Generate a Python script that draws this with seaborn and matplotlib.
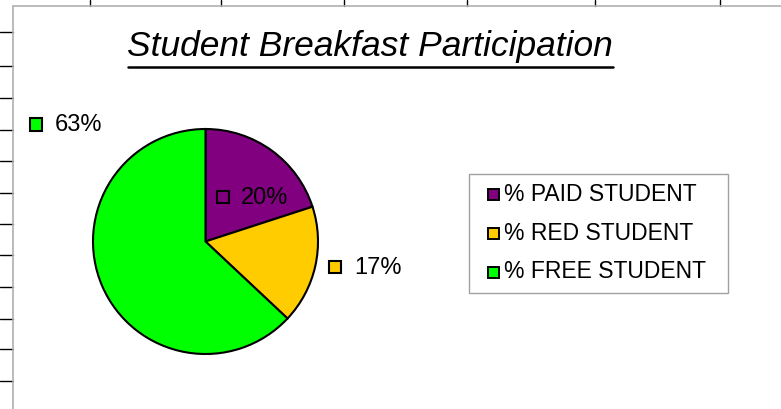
import matplotlib
matplotlib.use("Agg")
import matplotlib.pyplot as plt
import seaborn as sns
from matplotlib.lines import Line2D
from matplotlib.patches import Rectangle

categories = ["% PAID STUDENT", "% RED STUDENT", "% FREE STUDENT"]
values = [20, 17, 63]
label_texts = ["20%", "17%", "63%"]
colors = ["#800080", "#FFCC00", "#00FF00"]
title = "Student Breakfast Participation"

sns.set_theme(style="white")
plt.rcParams['font.family'] = ['Liberation Sans', 'DejaVu Sans']

W, H = 781, 409
fig = plt.figure(figsize=(W / 100, H / 100), dpi=100)
fig.patch.set_facecolor("white")

def fx(x):
    return x / W

def fy(y):
    return 1 - y / H

# spreadsheet cell lines outside the chart area
for x in [90, 221, 344, 467, 595, 720]:
    fig.add_artist(Line2D([fx(x), fx(x)], [fy(0), fy(6)], color="black", lw=1))
for y in [32, 66, 98, 130, 161, 193, 224, 255, 287, 319, 349, 381]:
    fig.add_artist(Line2D([fx(0), fx(13)], [fy(y), fy(y)], color="black", lw=1))
# chart area border
fig.add_artist(Line2D([fx(13), fx(781)], [fy(6), fy(6)], color="#b0b0b0", lw=1.2))
fig.add_artist(Line2D([fx(13), fx(13)], [fy(6), fy(409)], color="#b0b0b0", lw=1.2))

# title
fig.text(fx(370), fy(56), title, ha="center", va="baseline", fontsize=25.5,
         style="italic", color="black")
fig.add_artist(Line2D([fx(128), fx(613)], [fy(67), fy(67)], color="black", lw=1.8))

# pie
cx, cy, r = 205.5, 241.5, 112.5
ax = fig.add_axes([fx(cx - r), fy(cy + r), 2 * r / W, 2 * r / H])
wedges, _ = ax.pie(values, colors=colors, startangle=90, counterclock=False,
                   wedgeprops=dict(edgecolor="black", linewidth=1.5))
ax.set_xlim(-1, 1)
ax.set_ylim(-1, 1)
ax.axis("off")

# data labels with key squares: (square centre x, square centre y, text left x, text y)
label_pos = [(222.5, 197, 241, 198), (335, 266.5, 354, 268), (36, 124.5, 55, 125)]
sq = 12
for (sx, sy, lx, ly), txt, col in zip(label_pos, label_texts, colors):
    fig.text(fx(lx), fy(ly), txt, ha="left", va="center", fontsize=17, color="black")
    fig.add_artist(Rectangle((fx(sx - sq / 2), fy(sy + sq / 2)), sq / W, sq / H,
                             facecolor=col, edgecolor="black", lw=1.5))

# legend box
fig.add_artist(Rectangle((fx(469), fy(293)), (728 - 469) / W, (293 - 174) / H,
                         facecolor="white", edgecolor="#a0a0a0", lw=1))
for i, (cat, col) in enumerate(zip(categories, colors)):
    y = 194 + i * 39
    fig.add_artist(Rectangle((fx(487.5), fy(y + 5.5)), 11 / W, 11 / H,
                             facecolor=col, edgecolor="black", lw=1.4))
    fig.text(fx(504), fy(y), cat, ha="left", va="center", fontsize=16.5, color="black")

fig.savefig("out.png", dpi=100)
